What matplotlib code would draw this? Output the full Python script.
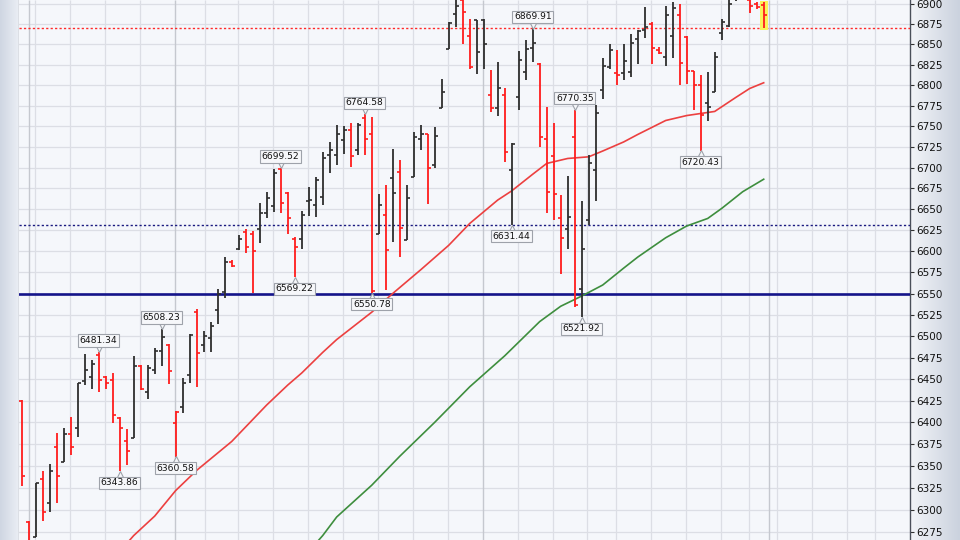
import numpy as np
import matplotlib
matplotlib.use("Agg")
import matplotlib.pyplot as plt
from matplotlib import transforms
from matplotlib.patches import Rectangle
from matplotlib.lines import Line2D
from matplotlib.colors import LinearSegmentedColormap
from matplotlib.ticker import FixedLocator, NullLocator, FixedFormatter

# ---------------- data ----------------
opens = [6425, 6286, 6269, 6335, 6308, 6372, 6354, 6387, 6394, 6448,
         6452, 6478, 6452, 6449, 6405, 6379, 6382, 6465, 6435, 6460,
         6483, 6490, 6399, 6418, 6455, 6528, 6490, 6498, 6531, 6552,
         6587, 6603, 6623, 6620, 6626, 6646, 6654, 6698, 6669, 6615,
         6615, 6660, 6655, 6665, 6715, 6715, 6733, 6745, 6721, 6760,
         6741, 6621, 6643, 6687, 6695, 6613, 6689, 6735, 6741, 6703,
         6772, 6845, 6888, 6905, 6861, 6880, 6880, 6788, 6772, 6788,
         6697, 6785, 6816, 6846, 6826, 6734, 6714, 6640, 6626, 6737,
         6555, 6637, 6697, 6794, 6822, 6815, 6815, 6816, 6857, 6868,
         6875, 6843, 6834, 6861, 6886, 6859, 6817, 6800, 6778, 6792,
         6864, 6873, 6908, 6912, 6905, 6900, 6899]
highs = [6426, 6287, 6330, 6344, 6352, 6388, 6394, 6406, 6445, 6479,
         6472, 6481.34, 6454, 6457, 6406, 6392, 6477, 6466, 6466, 6486,
         6508.23, 6491, 6413, 6451, 6502, 6532, 6506, 6516, 6555, 6593,
         6590, 6619, 6626, 6624, 6657, 6671, 6698, 6699.52, 6671, 6617,
         6648, 6677, 6689, 6719, 6731, 6752, 6750, 6754, 6754, 6764.58,
         6761, 6668, 6679, 6723, 6709, 6679, 6743, 6752, 6741, 6749,
         6807, 6878, 6910, 6912, 6881, 6880, 6882, 6819, 6828, 6796,
         6730, 6842, 6856, 6869.91, 6827, 6774, 6754, 6667, 6690, 6770.35,
         6660, 6715, 6776, 6833, 6851, 6843, 6851, 6863, 6868, 6896,
         6878, 6847, 6898, 6902, 6900, 6861, 6818, 6812, 6816, 6841,
         6881, 6915, 6922, 6928, 6912, 6903, 6902]
lows = [6327, 6250, 6269, 6287, 6298, 6308, 6354, 6362, 6383, 6443,
        6439, 6435, 6439, 6399, 6343.86, 6351, 6382, 6437, 6427, 6456,
        6465, 6444, 6360.58, 6411, 6445, 6441, 6481, 6481, 6514, 6545,
        6581, 6602, 6598, 6551, 6610, 6639, 6647, 6645, 6621, 6569.22,
        6603, 6642, 6641, 6655, 6693, 6703, 6717, 6701, 6715, 6715,
        6550.78, 6621, 6554, 6611, 6593, 6613, 6689, 6721, 6656, 6700,
        6772, 6845, 6872, 6851, 6820, 6814, 6820, 6767, 6763, 6707,
        6631.44, 6770, 6806, 6828, 6725, 6646, 6637, 6573, 6603, 6534,
        6521.92, 6631, 6660, 6783, 6820, 6800, 6806, 6810, 6826, 6858,
        6826, 6838, 6824, 6833, 6800, 6801, 6770, 6720.43, 6756, 6792,
        6855, 6871, 6904, 6908, 6889, 6894, 6870]
closes = [6338, 6258, 6330, 6298, 6344, 6339, 6387, 6372, 6445, 6460,
          6468, 6449, 6445, 6409, 6394, 6367, 6465, 6438, 6463, 6483,
          6499, 6459, 6412, 6445, 6501, 6480, 6500, 6512, 6550, 6587,
          6582, 6615, 6605, 6600, 6645, 6663, 6694, 6657, 6639, 6605,
          6643, 6661, 6685, 6711, 6721, 6740, 6745, 6714, 6752, 6735,
          6553, 6655, 6601, 6670, 6628, 6663, 6737, 6740, 6699, 6738,
          6792, 6876, 6898, 6890, 6822, 6841, 6851, 6772, 6796, 6719,
          6729, 6831, 6845, 6852, 6737, 6671, 6668, 6616, 6641, 6537,
          6603, 6705, 6766, 6824, 6843, 6812, 6830, 6852, 6867, 6871,
          6846, 6840, 6886, 6895, 6827, 6817, 6800, 6764, 6773, 6835,
          6878, 6900, 6915, 6920, 6898, 6896, 6886]
close_before = 6420

ma_red_idx = [15, 16, 19, 22, 25, 30, 35, 38, 40, 43, 45, 50, 53, 57, 61, 64, 68, 70,
              73, 75, 78, 81, 83, 86, 88, 92, 95, 99, 102, 104, 106]
ma_red_val = [6262, 6271, 6293, 6322, 6345, 6378, 6420, 6443, 6457, 6481, 6496, 6528,
              6550, 6578, 6607, 6633, 6661, 6672, 6692, 6705, 6711, 6713, 6720, 6731,
              6740, 6757, 6763, 6768, 6785, 6796, 6803]
ma_green_idx = [42, 43, 45, 50, 54, 59, 64, 69, 74, 77, 80, 83, 86, 88, 92, 95, 98,
                100, 103, 106]
ma_green_val = [6262, 6271, 6292, 6328, 6361, 6400, 6441, 6477, 6517, 6535, 6547, 6560,
                6580, 6593, 6616, 6630, 6639, 6651, 6671, 6686]

support_level = 6550
hi_ref = 6869.91
lo_ref = 6631.44

label_idx = [11, 14, 20, 22, 37, 39, 49, 50, 70, 73, 79, 80, 97]
label_side = ['H', 'L', 'H', 'L', 'H', 'L', 'H', 'L', 'L', 'H', 'H', 'L', 'L']

week_lines = [1.9, 6.9, 11.9, 16.9, 26.2, 30.9, 35.9, 40.9, 45.9, 50.9, 55.9, 60.9,
              70.9, 75.9, 80.8, 84.9, 89.9, 94.9, 99.9, 103.9, 107.9, 112.9, 117.9, 121.9]
month_lines = [1.1, 21.9, 65.9, 106.8]

y_ticks = list(range(6275, 6901, 25))

# ---------------- figure ----------------
W, H = 960, 540
fig = plt.figure(figsize=(9.6, 5.4), dpi=100)
fig.patch.set_facecolor('#f5f7fb')

grad = np.linspace(0, 1, 64).reshape(1, -1)
axl = fig.add_axes([0, 0, 18 / W, 1])
axl.imshow(grad, aspect='auto', extent=[0, 1, 0, 1],
           cmap=LinearSegmentedColormap.from_list('l', ['#cfd6e2', '#e9edf4']))
axl.axis('off')

axr = fig.add_axes([910 / W, 0, 50 / W, 1])
axr.imshow(grad, aspect='auto', extent=[0, 1, 0, 1],
           cmap=LinearSegmentedColormap.from_list('r', ['#f2f4f8', '#cbd2de']))
axr.axis('off')
axr.set_zorder(0)

fig.add_artist(Line2D([18.5 / W, 18.5 / W], [0, 1], color='#7a808d', lw=1.0))

ax = fig.add_axes([19 / W, 0, 891 / W, 1])
ax.set_zorder(2)
ax.set_facecolor('#f5f7fb')
ax.set_yscale('log')
ax.set_ylim(6266, 6905)
ax.set_xlim(-0.386, 126.9)

ax.yaxis.set_major_locator(FixedLocator(y_ticks))
ax.yaxis.set_major_formatter(FixedFormatter([str(t) for t in y_ticks]))
ax.yaxis.set_minor_locator(NullLocator())
ax.yaxis.tick_right()
ax.tick_params(axis='y', which='major', length=3, width=0.8, color='#303030',
               pad=1.5, labelsize=7.5, labelcolor='#111111')
ax.tick_params(axis='x', which='both', bottom=False, labelbottom=False)
for s in ['top', 'left', 'bottom']:
    ax.spines[s].set_visible(False)
ax.spines['right'].set_color('#4a4f5a')
ax.spines['right'].set_linewidth(1.0)

# grid
for t in y_ticks:
    ax.axhline(t, color='#dcdee5', lw=0.9, zorder=0)
ax.vlines(week_lines, 0, 1, transform=ax.get_xaxis_transform(), color='#dcdee5',
          lw=0.9, zorder=0)
ax.vlines(month_lines, 0, 1, transform=ax.get_xaxis_transform(), color='#c5c8cf',
          lw=1.0, zorder=0)

# reference lines
ax.axhline(support_level, color='#14148a', lw=1.9, zorder=3)
ax.axhline(hi_ref, color='#ff2a2a', lw=1.0, ls=(0, (1.6, 1.6)), zorder=3)
ax.axhline(lo_ref, color='#1a1a80', lw=1.0, ls=(0, (1.6, 1.6)), zorder=3)

# moving averages
ax.plot(ma_red_idx, ma_red_val, color='#ec4040', lw=1.2, zorder=4)
ax.plot(ma_green_idx, ma_green_val, color='#3e8e3e', lw=1.2, zorder=4)

# last-bar highlight
n = len(closes)
last = n - 1
ax.add_patch(Rectangle((last - 0.55, lows[last] * 0.9997), 1.1,
                       highs[last] * 1.0003 - lows[last] * 0.9997,
                       fc='#fbf25a', ec='none', zorder=4))

# OHLC bars
idx = np.arange(n)
prev = [close_before] + closes[:-1]
cols = ['#2e2e2e' if c >= p else '#ff1c1c' for c, p in zip(closes, prev)]
ax.vlines(idx, lows, highs, colors=cols, lw=1.3, zorder=5)
ax.hlines(opens, idx - 0.45, idx, colors=cols, lw=1.2, zorder=5)
ax.hlines(closes, idx, idx + 0.45, colors=cols, lw=1.2, zorder=5)

# swing labels
for i, side in zip(label_idx, label_side):
    v = highs[i] if side == 'H' else lows[i]
    sgn = 1 if side == 'H' else -1
    tr = transforms.offset_copy(ax.transData, fig=fig, x=0, y=sgn * 3.8, units='dots')
    ax.plot([i], [v], marker='v' if side == 'H' else '^', ms=5.5, mfc='#f6f7fa',
            mec='#9ea2aa', mew=0.8, transform=tr, zorder=6, clip_on=False)
    ax.annotate(f"{v:.2f}", xy=(i, v), xytext=(0, sgn * 11.5), textcoords='offset pixels',
                ha='center', va='center', fontsize=6.6, color='#111111',
                bbox=dict(boxstyle='square,pad=0.18', fc='#f6f7fa', ec='#9ea2aa', lw=0.8),
                zorder=7)

fig.savefig('out.png', dpi=100)
